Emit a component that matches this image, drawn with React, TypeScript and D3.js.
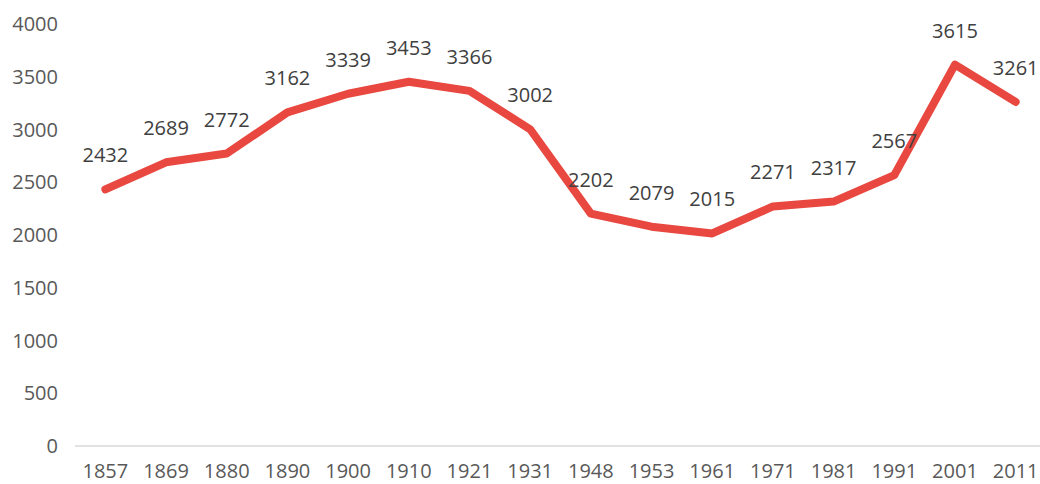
import { useEffect, useRef } from 'react';
import * as d3 from 'd3';

const years = ['1857', '1869', '1880', '1890', '1900', '1910', '1921', '1931', '1948', '1953', '1961', '1971', '1981', '1991', '2001', '2011'];
const population = [2432, 2689, 2772, 3162, 3339, 3453, 3366, 3002, 2202, 2079, 2015, 2271, 2317, 2567, 3615, 3261];
const yTicks = [0, 500, 1000, 1500, 2000, 2500, 3000, 3500, 4000];

export default function App() {
  const svgRef = useRef<SVGSVGElement>(null);

  useEffect(() => {
    if (!svgRef.current) return;
    const svg = d3.select(svgRef.current);
    svg.selectAll('*').remove();

    const width = 1040;
    const height = 484;
    const font = '"Open Sans", "DejaVu Sans", sans-serif';

    const x = d3.scaleBand<string>()
      .domain(years)
      .range([75, 1046]);

    const y = d3.scaleLinear()
      .domain([0, 4000])
      .range([446, 24]);

    svg.append('rect')
      .attr('width', width)
      .attr('height', height)
      .attr('fill', 'white');

    // baseline
    svg.append('line')
      .attr('x1', 75)
      .attr('x2', 1040)
      .attr('y1', y(0))
      .attr('y2', y(0))
      .attr('stroke', '#d9d9d9')
      .attr('stroke-width', 1.5);

    // y tick labels
    svg.append('g')
      .selectAll('text')
      .data(yTicks)
      .enter().append('text')
      .attr('x', 58)
      .attr('y', d => y(d))
      .attr('dy', '0.35em')
      .attr('text-anchor', 'end')
      .attr('fill', '#595959')
      .style('font-family', font)
      .style('font-size', '20px')
      .text(d => d);

    // x tick labels
    svg.append('g')
      .selectAll('text')
      .data(years)
      .enter().append('text')
      .attr('x', d => x(d)! + x.bandwidth() / 2)
      .attr('y', 478)
      .attr('text-anchor', 'middle')
      .attr('fill', '#595959')
      .style('font-family', font)
      .style('font-size', '20px')
      .text(d => d);

    const cx = (i: number) => x(years[i])! + x.bandwidth() / 2;

    const line = d3.line<number>()
      .x((_, i) => cx(i))
      .y(d => y(d));

    svg.append('path')
      .datum(population)
      .attr('d', line)
      .attr('fill', 'none')
      .attr('stroke', '#e8483f')
      .attr('stroke-width', 8)
      .attr('stroke-linejoin', 'round')
      .attr('stroke-linecap', 'round');

    // data labels
    svg.append('g')
      .selectAll('text')
      .data(population)
      .enter().append('text')
      .attr('x', (_, i) => cx(i))
      .attr('y', d => y(d) - 34)
      .attr('dy', '0.35em')
      .attr('text-anchor', 'middle')
      .attr('fill', '#404040')
      .style('font-family', font)
      .style('font-size', '20px')
      .text(d => d);
  }, []);

  return (
    <div style={{ position: 'absolute', left: 0, top: 0 }}>
      <svg ref={svgRef} width={1040} height={484} style={{ display: 'block' }} />
    </div>
  );
}
